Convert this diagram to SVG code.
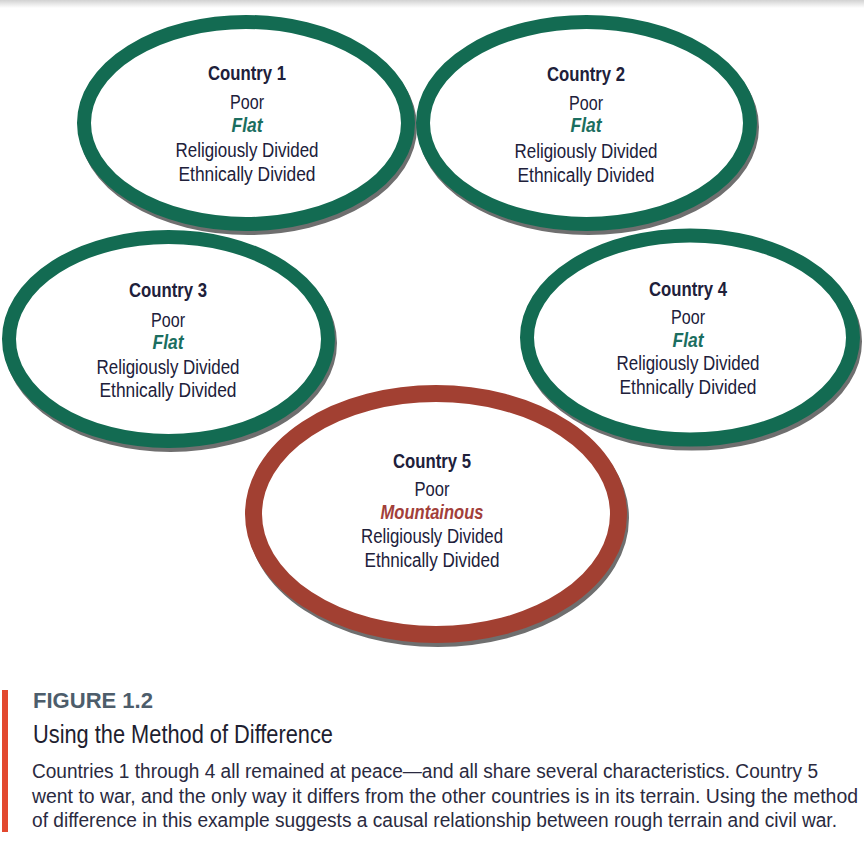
<svg xmlns="http://www.w3.org/2000/svg" width="864" height="851" viewBox="0 0 864 851">
  <defs>
    <linearGradient id="topbar" x1="0" y1="0" x2="0" y2="1">
      <stop offset="0" stop-color="#d2d2d2"/>
      <stop offset="1" stop-color="#ffffff"/>
    </linearGradient>
  </defs>
  <style>
    .shadow { fill: none; stroke: #6f6f6f; }
    .ring-g { fill: #ffffff; stroke: #136b52; stroke-width: 14; }
    .ring-r { fill: #ffffff; stroke: #a24032; stroke-width: 17; }
    .sh-g { stroke-width: 14; }
    .sh-r { stroke-width: 17; }
    text { font-family: "Liberation Sans", Arial, sans-serif; }
    .lbl { font-size: 19.5px; fill: #20203a; text-anchor: middle; }
    .ttl { font-weight: bold; }
    .flat { font-weight: bold; font-style: italic; fill: #1b6e60; }
    .mtn { font-weight: bold; font-style: italic; fill: #a2403a; }
    .fig { font-size: 22px; font-weight: bold; fill: #4d5d6b; }
    .head { font-size: 25px; fill: #1e1e30; }
    .body { font-size: 19.5px; fill: #2a2a40; }
  </style>

  <rect x="0" y="0" width="864" height="8" fill="url(#topbar)"/>

  <g id="connectors"></g>

  <g id="country1">
    <ellipse class="shadow sh-g" cx="248" cy="127" rx="162" ry="101"/>
    <ellipse class="ring-g" cx="246" cy="123" rx="162" ry="101"/>
    <text class="lbl ttl" x="247" y="80" textLength="78" lengthAdjust="spacingAndGlyphs">Country 1</text>
    <text class="lbl" x="247" y="109" textLength="34" lengthAdjust="spacingAndGlyphs">Poor</text>
    <text class="lbl flat" x="247" y="132" textLength="31" lengthAdjust="spacingAndGlyphs">Flat</text>
    <text class="lbl" x="247" y="157" textLength="143" lengthAdjust="spacingAndGlyphs">Religiously Divided</text>
    <text class="lbl" x="247" y="181" textLength="137" lengthAdjust="spacingAndGlyphs">Ethnically Divided</text>
  </g>

  <g id="country2">
    <ellipse class="shadow sh-g" cx="588.5" cy="127" rx="163.5" ry="101"/>
    <ellipse class="ring-g" cx="586.5" cy="123" rx="163.5" ry="101"/>
    <text class="lbl ttl" x="586" y="81" textLength="78" lengthAdjust="spacingAndGlyphs">Country 2</text>
    <text class="lbl" x="586" y="110" textLength="34" lengthAdjust="spacingAndGlyphs">Poor</text>
    <text class="lbl flat" x="586" y="132" textLength="31" lengthAdjust="spacingAndGlyphs">Flat</text>
    <text class="lbl" x="586" y="158" textLength="143" lengthAdjust="spacingAndGlyphs">Religiously Divided</text>
    <text class="lbl" x="586" y="182" textLength="137" lengthAdjust="spacingAndGlyphs">Ethnically Divided</text>
  </g>

  <g id="country3">
    <ellipse class="shadow sh-g" cx="170.5" cy="343" rx="159.5" ry="102"/>
    <ellipse class="ring-g" cx="168.5" cy="339" rx="159.5" ry="102"/>
    <text class="lbl ttl" x="168" y="297" textLength="78" lengthAdjust="spacingAndGlyphs">Country 3</text>
    <text class="lbl" x="168" y="327" textLength="34" lengthAdjust="spacingAndGlyphs">Poor</text>
    <text class="lbl flat" x="168" y="349" textLength="31" lengthAdjust="spacingAndGlyphs">Flat</text>
    <text class="lbl" x="168" y="374" textLength="143" lengthAdjust="spacingAndGlyphs">Religiously Divided</text>
    <text class="lbl" x="168" y="397" textLength="137" lengthAdjust="spacingAndGlyphs">Ethnically Divided</text>
  </g>

  <g id="country5">
    <ellipse class="shadow sh-r" cx="438" cy="518" rx="182.5" ry="120.5"/>
    <ellipse class="ring-r" cx="436" cy="514" rx="182.5" ry="120.5"/>
    <text class="lbl ttl" x="432" y="468" textLength="78" lengthAdjust="spacingAndGlyphs">Country 5</text>
    <text class="lbl" x="432" y="496" textLength="35" lengthAdjust="spacingAndGlyphs">Poor</text>
    <text class="lbl mtn" x="432" y="519" textLength="103" lengthAdjust="spacingAndGlyphs">Mountainous</text>
    <text class="lbl" x="432" y="543" textLength="142" lengthAdjust="spacingAndGlyphs">Religiously Divided</text>
    <text class="lbl" x="432" y="567" textLength="135" lengthAdjust="spacingAndGlyphs">Ethnically Divided</text>
  </g>

  <g id="country4">
    <ellipse class="shadow sh-g" cx="692" cy="341.5" rx="163" ry="102"/>
    <ellipse class="ring-g" cx="690" cy="337.5" rx="163" ry="102"/>
    <text class="lbl ttl" x="688" y="296" textLength="78" lengthAdjust="spacingAndGlyphs">Country 4</text>
    <text class="lbl" x="688" y="324" textLength="34" lengthAdjust="spacingAndGlyphs">Poor</text>
    <text class="lbl flat" x="688" y="347" textLength="31" lengthAdjust="spacingAndGlyphs">Flat</text>
    <text class="lbl" x="688" y="370" textLength="143" lengthAdjust="spacingAndGlyphs">Religiously Divided</text>
    <text class="lbl" x="688" y="394" textLength="137" lengthAdjust="spacingAndGlyphs">Ethnically Divided</text>
  </g>

  <g id="caption">
    <rect x="2" y="690" width="6" height="142" fill="#e2482f"/>
    <text class="fig" x="33" y="708" textLength="120" lengthAdjust="spacingAndGlyphs">FIGURE 1.2</text>
    <text class="head" x="33" y="743" textLength="300" lengthAdjust="spacingAndGlyphs">Using the Method of Difference</text>
    <text class="body" x="32" y="778" textLength="786" lengthAdjust="spacingAndGlyphs">Countries 1 through 4 all remained at peace—and all share several characteristics. Country 5</text>
    <text class="body" x="32" y="803" textLength="826" lengthAdjust="spacingAndGlyphs">went to war, and the only way it differs from the other countries is in its terrain. Using the method</text>
    <text class="body" x="32" y="827" textLength="805" lengthAdjust="spacingAndGlyphs">of difference in this example suggests a causal relationship between rough terrain and civil war.</text>
  </g>
</svg>
